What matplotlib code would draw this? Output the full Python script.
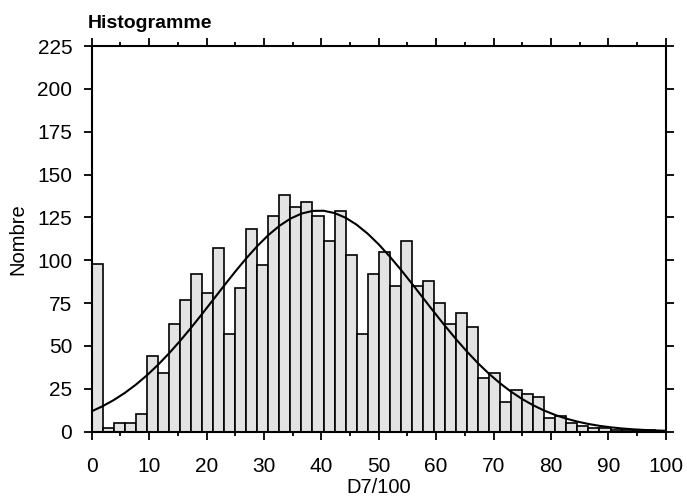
import numpy as np
import matplotlib
matplotlib.use("Agg")
import matplotlib.pyplot as plt
from matplotlib.ticker import MultipleLocator

# ---- data ----
x_min, x_max = 0, 100
n_bins = 52
counts = [98, 2, 5, 5, 10, 44, 34, 63, 77, 92, 81, 107, 57, 84, 118, 97, 126, 138,
          131, 134, 126, 111, 129, 103, 57, 92, 105, 85, 111, 85, 88, 75, 63, 69, 61, 31,
          34, 17, 24, 22, 20, 8, 9, 5, 3, 2, 2, 1, 1, 1, 1, 0]
x_ticks = [0, 10, 20, 30, 40, 50, 60, 70, 80, 90, 100]
y_ticks = [0, 25, 50, 75, 100, 125, 150, 175, 200, 225]
title = "Histogramme"
x_label = "D7/100"
y_label = "Nombre"

plt.rcParams['font.family'] = ['Liberation Sans', 'DejaVu Sans']

counts = np.array(counts, dtype=float)
edges = np.linspace(x_min, x_max, n_bins + 1)
width = edges[1] - edges[0]
centers = (edges[:-1] + edges[1:]) / 2

# fitted normal curve (from the binned data), scaled to counts
N = counts.sum()
mu = (counts * centers).sum() / N
sd = np.sqrt((counts * (centers - mu) ** 2).sum() / N)
curve = N * width * np.exp(-0.5 * ((edges - mu) / sd) ** 2) / (sd * np.sqrt(2 * np.pi))

fig = plt.figure(figsize=(6.87, 4.99), dpi=100)
ax = fig.add_axes([91.7 / 687, 1 - 431.6 / 499, (665.7 - 91.7) / 687, (431.6 - 46) / 499])

ax.bar(edges[:-1], counts, width=width, align='edge', color='#e3e3e3',
       edgecolor='black', linewidth=1.2, zorder=2)
ax.plot(edges, curve, color='black', linewidth=1.5, zorder=3)

ax.set_xlim(x_min, x_max)
ax.set_ylim(0, 225)
ax.set_xticks(x_ticks)
ax.set_yticks(y_ticks)
ax.xaxis.set_minor_locator(MultipleLocator(5))
for s in ax.spines.values():
    s.set_linewidth(1.5)

ax.tick_params(axis='both', which='major', direction='out', length=6, width=1.3,
               labelsize=15, top=True, right=True)
ax.tick_params(axis='x', which='minor', direction='out', length=3, width=1.3,
               top=True, bottom=True)
ax.tick_params(axis='x', which='major', pad=12)
ax.tick_params(axis='y', which='major', pad=8)

ax.set_xlabel(x_label, fontsize=14.5, labelpad=2)
ax.set_ylabel(y_label, fontsize=14.5, labelpad=7)

fig.text(88 / 687, 1 - 28 / 499, title, fontsize=14, fontweight='bold',
         ha='left', va='baseline')

fig.savefig("out.png", dpi=100)
